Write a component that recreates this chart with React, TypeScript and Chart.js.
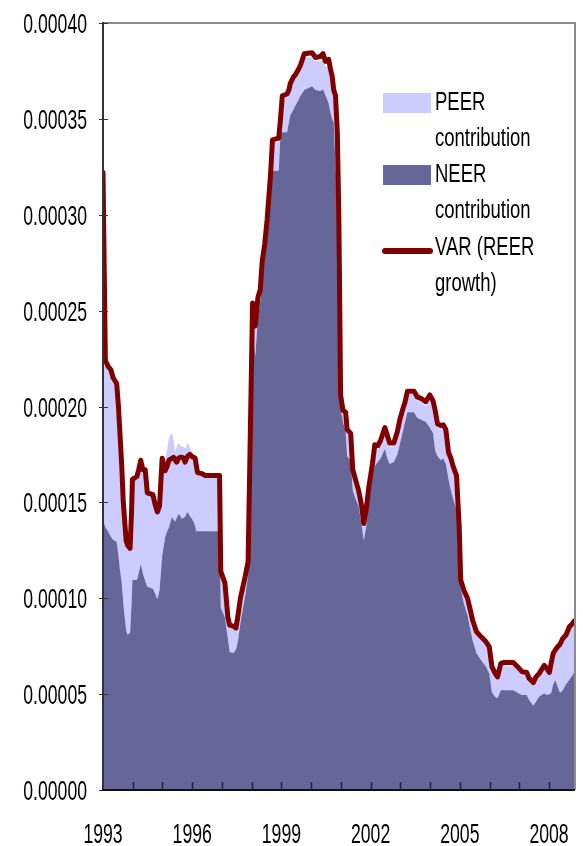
import React, { useEffect, useRef } from 'react';
import { Chart, registerables } from 'chart.js';

Chart.register(...registerables);

// Values are in units of 1e-5
const UNIT = 1e-5;

const dates = [
  1993.00, 1993.08, 1993.17, 1993.27, 1993.34, 1993.46, 1993.52, 1993.57, 1993.63, 1993.68,
  1993.73, 1993.78, 1993.83, 1993.91, 1993.96, 1993.99, 1994.14, 1994.20, 1994.27, 1994.34,
  1994.42, 1994.49, 1994.68, 1994.75, 1994.83, 1994.90, 1994.99, 1995.09, 1995.16, 1995.22,
  1995.32, 1995.37, 1995.43, 1995.48, 1995.54, 1995.60, 1995.65, 1995.71, 1995.76, 1995.84,
  1995.92, 1995.99, 1996.04, 1996.10, 1996.13, 1996.18, 1996.33, 1996.44, 1996.92, 1996.96,
  1997.10, 1997.20, 1997.26, 1997.38, 1997.47, 1997.54, 1997.62, 1997.72, 1997.79, 1997.88,
  1998.03, 1998.12, 1998.21, 1998.29, 1998.35, 1998.44, 1998.52, 1998.63, 1998.70, 1998.91,
  1998.97, 1999.03, 1999.19, 1999.25, 1999.30, 1999.41, 1999.47, 1999.58, 1999.64, 1999.77,
  2000.03, 2000.15, 2000.31, 2000.40, 2000.48, 2000.59, 2000.65, 2000.71, 2000.76, 2000.82,
  2000.88, 2000.93, 2000.96, 2000.99, 2001.07, 2001.16, 2001.21, 2001.33, 2001.40, 2001.49,
  2001.60, 2001.70, 2001.77, 2001.85, 2001.94, 2002.06, 2002.14, 2002.24, 2002.34, 2002.48,
  2002.56, 2002.64, 2002.78, 2002.90, 2002.98, 2003.07, 2003.16, 2003.24, 2003.46, 2003.57,
  2003.72, 2003.85, 2003.99, 2004.10, 2004.17, 2004.25, 2004.36, 2004.44, 2004.53, 2004.62,
  2004.70, 2004.77, 2004.89, 2004.98, 2005.03, 2005.14, 2005.26, 2005.43, 2005.56, 2005.71,
  2005.88, 2005.99, 2006.08, 2006.19, 2006.27, 2006.38, 2006.49, 2006.80, 2006.94, 2007.09,
  2007.25, 2007.33, 2007.47, 2007.56, 2007.67, 2007.84, 2007.92, 2008.01, 2008.07, 2008.14,
  2008.21, 2008.29, 2008.37, 2008.46, 2008.57, 2008.68, 2008.80, 2008.84,
];

const neerContribution = [
  14.1, 13.7, 13.5, 13.2, 13.05, 12.95, 12.2, 11.5, 10.8, 9.8,
  9.0, 8.3, 8.1, 8.2, 9.7, 10.95, 10.95, 11.3, 11.8, 11.3,
  10.9, 10.6, 10.5, 10.25, 9.95, 10.4, 12.2, 13.2, 13.5, 13.7,
  14.25, 14.1, 14.0, 14.2, 14.4, 14.3, 14.15, 14.2, 14.25, 14.5,
  14.3, 14.15, 14.0, 13.8, 13.5, 13.5, 13.5, 13.5, 13.5, 9.5,
  9.0, 7.9, 7.2, 7.15, 7.3, 7.8, 8.7, 9.6, 10.2, 11.2,
  24.4, 22.6, 24.6, 25.5, 26.6, 28.1, 29.4, 31.6, 32.3, 32.3,
  34.2, 34.3, 34.3, 34.8, 35.2, 35.5, 35.7, 36.0, 36.2, 36.5,
  36.7, 36.5, 36.45, 36.55, 36.25, 35.8, 35.3, 35.0, 34.8, 32.5,
  30.6, 27.0, 23.5, 19.9, 19.2, 18.7, 17.4, 17.2, 15.6, 15.2,
  14.8, 13.8, 13.0, 13.7, 14.95, 16.3, 16.9, 17.1, 17.3, 17.8,
  17.3, 17.0, 17.1, 17.5, 18.0, 18.6, 19.2, 19.7, 19.7, 19.4,
  19.3, 19.2, 18.9, 18.6, 17.7, 17.4, 17.2, 17.3, 17.0, 16.2,
  15.6, 15.2, 14.6, 11.0, 10.5, 9.7, 9.1, 7.8, 7.13, 6.78,
  6.43, 6.08, 5.1, 4.85, 4.78, 5.2, 5.2, 5.2, 5.07, 4.95,
  4.95, 4.7, 4.4, 4.6, 4.87, 5.04, 4.95, 5.0, 5.04, 5.5,
  5.74, 5.39, 5.07, 5.2, 5.5, 5.75, 6.0, 6.15,
];

const peerContribution = [
  8.4, 8.6, 8.5, 8.6, 8.35, 8.15, 7.7, 7.0, 6.0, 5.2,
  4.9, 4.6, 4.5, 4.3, 4.7, 5.15, 5.25, 5.3, 5.3, 5.3,
  5.6, 4.8, 4.8, 4.55, 4.45, 4.3, 5.0, 4.1, 4.3, 4.7,
  4.35, 4.2, 3.6, 3.7, 3.7, 3.7, 3.75, 3.7, 3.55, 3.6,
  3.6, 3.45, 3.4, 3.5, 3.4, 3.0, 2.95, 2.85, 2.85, 1.8,
  1.7, 1.0, 1.3, 1.25, 1.0, 1.2, 1.2, 1.0, 0.9, 0.6,
  0.8, 1.4, 0.8, 0.4, 0.7, 0.2, 0.2, 0.2, 1.4, 1.5,
  0.6, 1.6, 1.8, 1.5, 1.4, 1.5, 1.4, 1.4, 1.4, 1.7,
  1.5, 1.5, 1.55, 1.55, 1.45, 2.0, 2.0, 1.9, 1.4, 3.4,
  3.4, 2.8, 1.9, 0.5, 0.4, 0.8, 1.2, 1.2, 0.9, 0.8,
  0.6, 0.8, 0.7, 0.7, 0.65, 0.5, 0.9, 0.6, 0.7, 0.9,
  1.0, 0.9, 0.8, 1.0, 1.1, 1.0, 0.8, 0.9, 0.9, 0.9,
  0.9, 0.8, 1.5, 1.5, 1.9, 1.5, 1.6, 1.5, 1.6, 1.2,
  1.5, 1.5, 1.6, 2.5, 0.3, 0.5, 0.7, 0.9, 0.97, 1.07,
  1.17, 1.22, 1.2, 1.05, 0.97, 1.2, 1.25, 1.25, 1.18, 1.05,
  1.0, 0.95, 1.05, 1.15, 1.03, 1.26, 1.2, 1.0, 1.41, 1.45,
  1.41, 1.96, 2.43, 2.6, 2.6, 2.85, 2.95, 2.85,
];

const varReerGrowth = [
  32.2, 22.4, 22.1, 21.9, 21.5, 21.2, 20.0, 18.6, 16.9, 15.1,
  14.0, 13.0, 12.75, 12.6, 14.5, 16.2, 16.35, 16.7, 17.2, 16.7,
  16.7, 15.5, 15.4, 14.9, 14.5, 14.8, 17.3, 16.65, 16.9, 17.2,
  17.3, 17.35, 17.2, 17.1, 17.3, 17.35, 17.35, 17.3, 17.1, 17.4,
  17.5, 17.4, 17.35, 17.3, 17.0, 16.55, 16.5, 16.4, 16.4, 11.4,
  10.8, 9.0, 8.6, 8.55, 8.45, 9.1, 10.0, 10.7, 11.2, 11.9,
  25.4, 24.2, 25.7, 26.1, 27.5, 28.5, 29.75, 32.0, 33.9, 34.0,
  35.0, 36.2, 36.3, 36.5, 36.85, 37.2, 37.3, 37.6, 37.8, 38.4,
  38.45, 38.2, 38.25, 38.4, 38.0, 38.1, 37.6, 37.2, 36.5, 36.2,
  34.3, 30.0, 25.6, 20.6, 19.8, 19.7, 18.8, 18.6, 16.7, 16.2,
  15.6, 14.8, 13.9, 14.6, 15.8, 17.0, 18.0, 17.95, 18.25, 18.9,
  18.5, 18.1, 18.1, 18.7, 19.3, 19.8, 20.25, 20.8, 20.8, 20.5,
  20.4, 20.25, 20.6, 20.3, 19.8, 19.1, 19.0, 19.05, 18.8, 17.6,
  17.3, 16.9, 16.4, 13.7, 10.95, 10.4, 10.0, 8.87, 8.25, 8.0,
  7.73, 7.47, 6.43, 6.08, 5.9, 6.6, 6.65, 6.65, 6.43, 6.17,
  6.13, 5.83, 5.6, 5.9, 6.08, 6.5, 6.35, 6.13, 6.6, 7.13,
  7.3, 7.47, 7.6, 7.9, 8.08, 8.5, 8.7, 8.8,
];

const yTickValues = [0, 0.00005, 0.0001, 0.00015, 0.0002, 0.00025, 0.0003, 0.00035, 0.0004];
const xTickYears = [1994, 1995, 1996, 1997, 1998, 1999, 2000, 2001, 2002, 2003, 2004, 2005, 2006, 2007, 2008];
const xLabelYears = [1993, 1996, 1999, 2002, 2005, 2008];

const legendLabels = [
  ['PEER', 'contribution'],
  ['NEER', 'contribution'],
  ['VAR (REER', 'growth)'],
];

const COLORS = {
  peer: '#CCCCFF',
  neer: '#666699',
  line: '#800000',
};

const FONT = '"Liberation Sans", Arial, sans-serif';

function drawSqueezed(ctx: CanvasRenderingContext2D, text: string, x: number, y: number, align: CanvasTextAlign, sx: number, size: number) {
  ctx.save();
  ctx.font = `${size}px ${FONT}`;
  ctx.textAlign = align;
  ctx.textBaseline = 'alphabetic';
  ctx.fillStyle = '#000000';
  ctx.translate(x, y);
  ctx.scale(sx, 1);
  ctx.fillText(text, 0, 0);
  ctx.restore();
}

const excelDecor = {
  id: 'excelDecor',
  afterDatasetsDraw(chart: any) {
    const { ctx, chartArea: ca, scales } = chart;
    const xs = scales.x;
    const ys = scales.y;
    ctx.save();
    // plot area border (top / right)
    ctx.strokeStyle = '#8c8c8c';
    ctx.lineWidth = 2;
    ctx.beginPath();
    ctx.moveTo(ca.left, ca.top);
    ctx.lineTo(ca.right + 1, ca.top);
    ctx.lineTo(ca.right + 1, ca.bottom);
    ctx.stroke();

    // y axis line
    ctx.strokeStyle = '#333333';
    ctx.lineWidth = 2;
    ctx.beginPath();
    ctx.moveTo(ca.left, ca.top - 1);
    ctx.lineTo(ca.left, ca.bottom + 1);
    ctx.stroke();

    // y ticks & labels
    ctx.lineWidth = 1;
    yTickValues.forEach((v) => {
      const py = Math.round(ys.getPixelForValue(v)) + 0.5;
      ctx.beginPath();
      ctx.moveTo(ca.left - 4, py);
      ctx.lineTo(ca.left + 5, py);
      ctx.stroke();
      drawSqueezed(ctx, v.toFixed(5), 87, py + 9, 'right', 0.63, 28);
    });

    // x axis line
    ctx.strokeStyle = '#111111';
    ctx.lineWidth = 2;
    ctx.beginPath();
    ctx.moveTo(ca.left - 1, ca.bottom);
    ctx.lineTo(ca.right + 1, ca.bottom);
    ctx.stroke();

    // x ticks (inside)
    ctx.strokeStyle = '#222233';
    ctx.lineWidth = 1.5;
    xTickYears.forEach((yr) => {
      const px = Math.round(xs.getPixelForValue(yr)) + 0.5;
      ctx.beginPath();
      ctx.moveTo(px, ca.bottom - 8);
      ctx.lineTo(px, ca.bottom);
      ctx.stroke();
    });
    xLabelYears.forEach((yr) => {
      const px = xs.getPixelForValue(yr);
      drawSqueezed(ctx, String(yr), px, 843, 'center', 0.63, 28);
    });

    // legend
    const lx = 383;
    const lw = 48;
    ctx.fillStyle = COLORS.peer;
    ctx.fillRect(lx, 93, lw, 20);
    ctx.fillStyle = COLORS.neer;
    ctx.fillRect(lx, 165, lw, 20);
    ctx.strokeStyle = COLORS.line;
    ctx.lineWidth = 6;
    ctx.lineCap = 'round';
    ctx.beginPath();
    ctx.moveTo(lx + 2, 251);
    ctx.lineTo(lx + lw - 1, 251);
    ctx.stroke();

    const baselines = [[110, 146], [182, 218], [255, 291]];
    legendLabels.forEach((lines, i) => {
      lines.forEach((t, j) => {
        drawSqueezed(ctx, t, 435, baselines[i][j], 'left', 0.74, 25);
      });
    });
    ctx.restore();
  },
};

export default function App() {
  const canvasRef = useRef<HTMLCanvasElement | null>(null);

  useEffect(() => {
    if (!canvasRef.current) return;
    const toPts = (arr: number[]) => arr.map((v, i) => ({ x: dates[i], y: v * UNIT }));
    const chart = new Chart(canvasRef.current, {
      type: 'line',
      data: {
        datasets: [
          {
            label: 'VAR (REER growth)',
            data: toPts(varReerGrowth),
            borderColor: COLORS.line,
            borderWidth: 5,
            borderJoinStyle: 'round',
            borderCapStyle: 'round',
            pointRadius: 0,
            fill: false,
            tension: 0,
            stack: 'var',
          },
          {
            label: 'NEER contribution',
            data: toPts(neerContribution),
            borderWidth: 0,
            borderColor: 'rgba(0,0,0,0)',
            backgroundColor: COLORS.neer,
            pointRadius: 0,
            fill: 'origin',
            tension: 0,
            stack: 'area',
          },
          {
            label: 'PEER contribution',
            data: toPts(peerContribution),
            borderWidth: 0,
            borderColor: 'rgba(0,0,0,0)',
            backgroundColor: COLORS.peer,
            pointRadius: 0,
            fill: '-1',
            tension: 0,
            stack: 'area',
          },
        ],
      },
      options: {
        responsive: false,
        animation: false,
        devicePixelRatio: 1,
        layout: { padding: { left: 103, top: 23, right: 9, bottom: 56 } },
        plugins: {
          legend: { display: false },
          tooltip: { enabled: false },
        },
        scales: {
          x: { type: 'linear', min: 1993, max: 2008.84, display: false },
          y: { type: 'linear', min: 0, max: 0.0004, stacked: true, display: false },
        },
      },
      plugins: [excelDecor],
    });
    return () => chart.destroy();
  }, []);

  return (
    <div style={{ position: 'fixed', left: 0, top: 0, width: 583, height: 846, background: '#ffffff' }}>
      <canvas ref={canvasRef} width={583} height={846} style={{ display: 'block', width: 583, height: 846 }} />
    </div>
  );
}
